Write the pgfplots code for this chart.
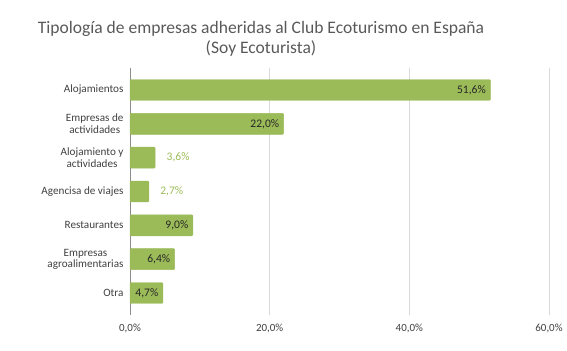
\documentclass[border=0pt]{standalone}
\usepackage{pgfplots}
\pgfplotsset{compat=1.18}
\usepackage{fontspec}
\setmainfont{Carlito}
\definecolor{barg}{HTML}{9BBB59}
\definecolor{txt}{HTML}{404040}
\definecolor{dtxt}{HTML}{262626}
\definecolor{ttl}{HTML}{595959}
\definecolor{gridc}{HTML}{D9D9D9}
\begin{document}
\begin{tikzpicture}
\begin{axis}[
  name=ax,
  scale only axis,
  width=419bp, height=247bp,
  xmin=0, xmax=60,
  ymin=-0.65, ymax=6.65,
  y dir=reverse,
  xbar, bar width=0.62, bar shift=0pt,
  axis line style={draw=none},
  xmajorgrids, grid style={gridc, line width=0.6pt},
  xtick={20,40,60},
  extra x ticks={0},
  extra x tick style={grid style={draw=gray!90, line width=0.7pt}},
  ytick={0,1,2,3,4,5,6},
  major tick length=0pt,
  yticklabels={Alojamientos,{Empresas de\\actividades},{Alojamiento y\\actividades},Agencisa de viajes,Restaurantes,{Empresas\\agroalimentarias},Otra},
  yticklabel style={align=center, font=\fontsize{11.2}{11.5}\selectfont, text=txt, xshift=-3bp},
  xticklabel={\pgfmathprintnumber[fixed,fixed zerofill,precision=1,use comma]{\tick}\%},
  xticklabel style={font=\fontsize{11}{12}\selectfont, text=txt, yshift=-6bp},
  /pgf/number format/assume math mode=true,
  clip=false,
]
\addplot[fill=barg, draw=barg, rounded corners=1pt,
  nodes near coords, point meta=explicit symbolic,
  nodes near coords style={anchor=east, xshift=-1bp, text=dtxt, font=\fontsize{11.6}{12}\selectfont}]
  coordinates {
  (51.6,0) [51,6\%]
  (22.0,1) [22,0\%]
  (3.6,2) []
  (2.7,3) []
  (9.0,4) [9,0\%]
  (6.4,5) [6,4\%]
  (4.7,6) [4,7\%]
  };
\addplot[draw=none, fill=none, forget plot,
  nodes near coords, point meta=explicit symbolic,
  nodes near coords style={anchor=west, xshift=8bp, text=barg, font=\fontsize{11.6}{12}\selectfont}]
  coordinates {
  (3.6,2) [3,6\%]
  (2.7,3) [2,7\%]
  };
\end{axis}
\pgfresetboundingbox
\path[use as bounding box] ([xshift=-130bp,yshift=-36bp]ax.south west) rectangle ([xshift=18bp,yshift=68bp]ax.north east);
\node[text=ttl, align=center, font=\fontsize{17.6}{20}\selectfont] at ([xshift=131bp,yshift=29bp]ax.north west) {Tipología de empresas adheridas al Club Ecoturismo en España\\(Soy Ecoturista)};
\end{tikzpicture}
\end{document}
